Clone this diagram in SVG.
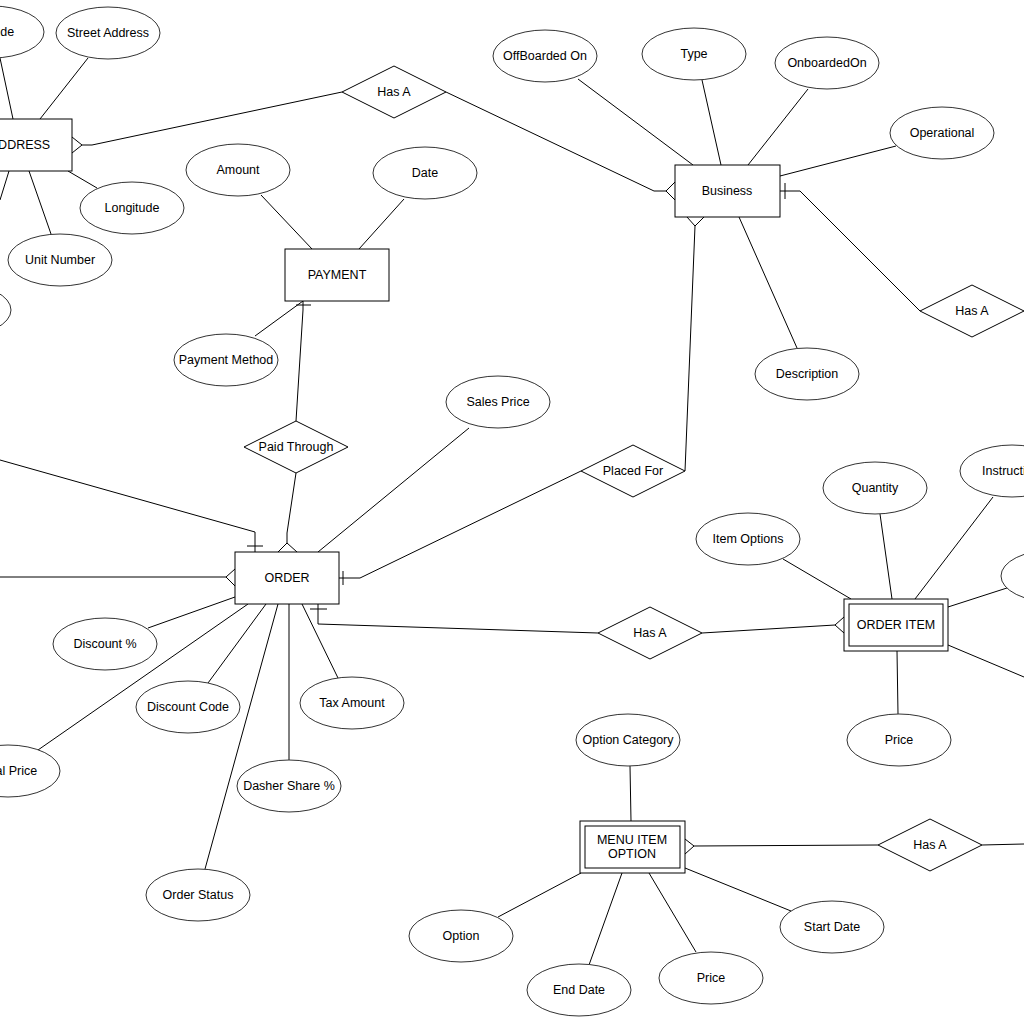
<svg xmlns="http://www.w3.org/2000/svg" width="1024" height="1024" viewBox="0 0 1024 1024">
<style>
.ent{fill:#fff;stroke:#000;stroke-width:1}
.attr{fill:#fff;stroke:#333;stroke-width:1}
.rel{fill:#fff;stroke:#000;stroke-width:1}
.c{fill:none;stroke:#000;stroke-width:1}
text{font-family:"Liberation Sans",Arial,Helvetica,sans-serif;font-size:12.5px;fill:#000;text-anchor:middle}
</style>
<rect width="1024" height="1024" fill="#fff"/>
<g id="connectors">
<path class="c" d="M0,58 L13,119"/>
<path class="c" d="M88,58 L40,119"/>
<path class="c" d="M68,171 L97,188"/>
<path class="c" d="M29,171 L51,234"/>
<path class="c" d="M9,171 L0,200"/>
<path class="c" d="M72,137 L82,145 L72,153 M82,145 L92,145 L342,92"/>
<path class="c" d="M446,92 L654,191 L666,191 M675,182 L666,191 L675,200"/>
<path class="c" d="M261,195 L312,249"/>
<path class="c" d="M404,199 L359,249"/>
<path class="c" d="M303,301 L255,336"/>
<path class="c" d="M303,301 L303,310 L296,421 M296,305 L311,305"/>
<path class="c" d="M296,473 L287,533 L287,543 M278,552 L287,543 L297,552"/>
<path class="c" d="M578,79 L693,165"/>
<path class="c" d="M702,80 L721,165"/>
<path class="c" d="M808,89 L748,165"/>
<path class="c" d="M896,146 L780,176"/>
<path class="c" d="M739,217 L797,348"/>
<path class="c" d="M780,191 L800,191 L920,311 M785,183 L785,199"/>
<path class="c" d="M687,217 L695,226 L704,217 M695,226 L685,471"/>
<path class="c" d="M581,471 L360,578 L339,578 M343,571 L343,585"/>
<path class="c" d="M0,460 L255,532 L255,552 M247,546 L263,546"/>
<path class="c" d="M0,577 L226,577 M235,569 L226,577 L235,586"/>
<path class="c" d="M469,428 L318,552"/>
<path class="c" d="M148,628 L235,597"/>
<path class="c" d="M208,683 L266,604"/>
<path class="c" d="M38,750 L248,604"/>
<path class="c" d="M289,604 L289,760"/>
<path class="c" d="M302,604 L338,678"/>
<path class="c" d="M278,604 L205,869"/>
<path class="c" d="M318,604 L318,624 L598,633 M310,609 L327,609"/>
<path class="c" d="M702,633 L835,625 M844,617 L835,625 L844,633"/>
<path class="c" d="M783,559 L851,599"/>
<path class="c" d="M880,514 L892,599"/>
<path class="c" d="M993,497 L915,599"/>
<path class="c" d="M1010,587 L948,607"/>
<path class="c" d="M948,645 L1024,677"/>
<path class="c" d="M897,651 L898,714"/>
<path class="c" d="M630,766 L631,821"/>
<path class="c" d="M498,917 L581,873"/>
<path class="c" d="M589,965 L622,873"/>
<path class="c" d="M696,952 L649,873"/>
<path class="c" d="M791,911 L685,868"/>
<path class="c" d="M685,839 L694,846 L685,854 M694,846 L878,845"/>
<path class="c" d="M982,845 L1024,844"/>
</g>
<g id="ADDRESS"><rect class="ent" x="-32" y="119" width="104" height="52"/><text x="20" y="149">ADDRESS</text></g>
<g id="PAYMENT"><rect class="ent" x="285" y="249" width="104" height="52"/><text x="337" y="279">PAYMENT</text></g>
<g id="Business"><rect class="ent" x="675" y="165" width="105" height="52"/><text x="727" y="195">Business</text></g>
<g id="ORDER"><rect class="ent" x="235" y="552" width="104" height="52"/><text x="287" y="582">ORDER</text></g>
<g id="ORDER_ITEM"><rect class="ent" x="844" y="599" width="104" height="52"/><rect class="ent" x="849" y="604" width="94" height="42"/><text x="896" y="629">ORDER ITEM</text></g>
<g id="MENU_ITEM_OPTION"><rect class="ent" x="580" y="821" width="105" height="52"/><rect class="ent" x="585" y="826" width="95" height="42"/><text x="632" y="844">MENU ITEM</text><text x="632" y="858">OPTION</text></g>
<g id="rel_HasA_address"><polygon class="rel" points="342,92 394,66 446,92 394,118"/><text x="394" y="96">Has A</text></g>
<g id="rel_PaidThrough"><polygon class="rel" points="244,447 296,421 348,447 296,473"/><text x="296" y="451">Paid Through</text></g>
<g id="rel_PlacedFor"><polygon class="rel" points="581,471 633,445 685,471 633,497"/><text x="633" y="475">Placed For</text></g>
<g id="rel_HasA_order"><polygon class="rel" points="598,633 650,607 702,633 650,659"/><text x="650" y="637">Has A</text></g>
<g id="rel_HasA_business"><polygon class="rel" points="920,311 972,285 1024,311 972,337"/><text x="972" y="315">Has A</text></g>
<g id="rel_HasA_menu"><polygon class="rel" points="878,845 930,819 982,845 930,871"/><text x="930" y="849">Has A</text></g>
<g id="attr_Latitude"><ellipse class="attr" cx="-8" cy="32" rx="52" ry="26"/><text x="-8" y="36">Latitude</text></g>
<g id="attr_StreetAddress"><ellipse class="attr" cx="108" cy="33" rx="52" ry="26"/><text x="108" y="37">Street Address</text></g>
<g id="attr_Longitude"><ellipse class="attr" cx="132" cy="208" rx="52" ry="26"/><text x="132" y="212">Longitude</text></g>
<g id="attr_UnitNumber"><ellipse class="attr" cx="60" cy="260" rx="52" ry="26"/><text x="60" y="264">Unit Number</text></g>
<g id="attr_addr_other"><ellipse class="attr" cx="-41" cy="310" rx="52" ry="26"/></g>
<g id="attr_Amount"><ellipse class="attr" cx="238" cy="170" rx="52" ry="26"/><text x="238" y="174">Amount</text></g>
<g id="attr_Date"><ellipse class="attr" cx="425" cy="173" rx="52" ry="26"/><text x="425" y="177">Date</text></g>
<g id="attr_PaymentMethod"><ellipse class="attr" cx="226" cy="360" rx="52" ry="26"/><text x="226" y="364">Payment Method</text></g>
<g id="attr_OffBoardedOn"><ellipse class="attr" cx="545" cy="56" rx="52" ry="26"/><text x="545" y="60">OffBoarded On</text></g>
<g id="attr_Type"><ellipse class="attr" cx="694" cy="54" rx="52" ry="26"/><text x="694" y="58">Type</text></g>
<g id="attr_OnboardedOn"><ellipse class="attr" cx="827" cy="63" rx="52" ry="26"/><text x="827" y="67">OnboardedOn</text></g>
<g id="attr_Operational"><ellipse class="attr" cx="942" cy="133" rx="52" ry="26"/><text x="942" y="137">Operational</text></g>
<g id="attr_Description"><ellipse class="attr" cx="807" cy="374" rx="52" ry="26"/><text x="807" y="378">Description</text></g>
<g id="attr_SalesPrice"><ellipse class="attr" cx="498" cy="402" rx="52" ry="26"/><text x="498" y="406">Sales Price</text></g>
<g id="attr_Quantity"><ellipse class="attr" cx="875" cy="488" rx="52" ry="26"/><text x="875" y="492">Quantity</text></g>
<g id="attr_Instructions"><ellipse class="attr" cx="1012" cy="471" rx="52" ry="26"/><text x="1014" y="475">Instructions</text></g>
<g id="attr_item_other"><ellipse class="attr" cx="1053" cy="576" rx="52" ry="26"/></g>
<g id="attr_ItemOptions"><ellipse class="attr" cx="748" cy="539" rx="52" ry="26"/><text x="748" y="543">Item Options</text></g>
<g id="attr_ItemPrice"><ellipse class="attr" cx="899" cy="740" rx="52" ry="26"/><text x="899" y="744">Price</text></g>
<g id="attr_DiscountPct"><ellipse class="attr" cx="105" cy="644" rx="52" ry="26"/><text x="105" y="648">Discount %</text></g>
<g id="attr_DiscountCode"><ellipse class="attr" cx="188" cy="707" rx="52" ry="26"/><text x="188" y="711">Discount Code</text></g>
<g id="attr_TotalPrice"><ellipse class="attr" cx="8" cy="771" rx="52" ry="26"/><text x="8" y="775">Total Price</text></g>
<g id="attr_DasherShare"><ellipse class="attr" cx="289" cy="786" rx="52" ry="26"/><text x="289" y="790">Dasher Share %</text></g>
<g id="attr_TaxAmount"><ellipse class="attr" cx="352" cy="703" rx="52" ry="26"/><text x="352" y="707">Tax Amount</text></g>
<g id="attr_OrderStatus"><ellipse class="attr" cx="198" cy="895" rx="52" ry="26"/><text x="198" y="899">Order Status</text></g>
<g id="attr_OptionCategory"><ellipse class="attr" cx="628" cy="740" rx="52" ry="26"/><text x="628" y="744">Option Category</text></g>
<g id="attr_Option"><ellipse class="attr" cx="461" cy="936" rx="52" ry="26"/><text x="461" y="940">Option</text></g>
<g id="attr_EndDate"><ellipse class="attr" cx="579" cy="990" rx="52" ry="26"/><text x="579" y="994">End Date</text></g>
<g id="attr_OptionPrice"><ellipse class="attr" cx="711" cy="978" rx="52" ry="26"/><text x="711" y="982">Price</text></g>
<g id="attr_StartDate"><ellipse class="attr" cx="832" cy="927" rx="52" ry="26"/><text x="832" y="931">Start Date</text></g>
</svg>
